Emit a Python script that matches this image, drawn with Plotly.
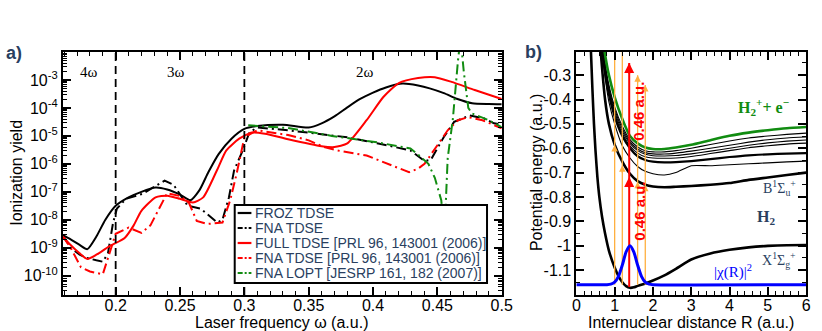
import plotly.graph_objects as go

W, H = 822, 331

# ---------------- panel a) ionization yield vs laser frequency ----------------
omega_froz = [0.159, 0.165, 0.172, 0.178, 0.185, 0.192, 0.2, 0.21, 0.22, 0.231, 0.24, 0.25, 0.258,
              0.265, 0.272, 0.28, 0.29, 0.3, 0.31, 0.33, 0.35, 0.36, 0.37, 0.38, 0.39, 0.4, 0.41,
              0.423, 0.435, 0.444, 0.455, 0.465, 0.477, 0.49, 0.5]
yield_froz = [-8.55, -8.7, -8.9, -9.05, -8.6, -8.0, -7.5, -7.2, -7.0, -6.85, -6.92, -7.1, -7.3,
              -6.95, -6.3, -5.65, -5.1, -4.75, -4.65, -4.6, -4.7, -4.55, -4.3, -3.98, -3.68, -3.45,
              -3.27, -3.13, -3.2, -3.3, -3.47, -3.67, -3.83, -3.86, -3.87]

omega_fna = [0.159, 0.165, 0.172, 0.178, 0.185, 0.19, 0.194, 0.198, 0.201, 0.208, 0.221, 0.232,
             0.238, 0.245, 0.256, 0.266, 0.279, 0.283, 0.288, 0.292, 0.298, 0.304, 0.31, 0.334,
             0.368, 0.38, 0.404, 0.429, 0.44, 0.445, 0.455, 0.463, 0.475, 0.486, 0.494, 0.5]
yield_fna = [-8.55, -9.0, -9.25, -9.37, -9.45, -9.5, -9.2, -8.1, -7.6, -7.25, -7.07, -6.75,
             -6.6, -6.75, -7.5, -7.6, -8.1, -8.0, -7.2, -6.24, -5.6, -4.87, -4.7, -4.8,
             -4.97, -5.05, -5.27, -5.52, -5.9, -5.85, -5.04, -4.5, -4.27, -4.37, -4.55, -4.6]

omega_full = [0.159, 0.165, 0.172, 0.178, 0.185, 0.195, 0.207, 0.214, 0.22, 0.231, 0.24, 0.25,
              0.26, 0.268, 0.279, 0.286, 0.296, 0.306, 0.316, 0.334, 0.36, 0.37, 0.38, 0.395,
              0.408, 0.42, 0.435, 0.448, 0.461, 0.479, 0.5]
yield_full = [-8.6, -8.9, -9.2, -9.4, -9.25, -8.95, -8.65, -8.2, -7.68, -7.2, -7.14, -7.25,
              -7.38, -7.2, -6.2, -5.52, -5.1, -4.88, -4.92, -5.12, -5.37, -5.4, -5.27, -4.44,
              -3.61, -3.11, -2.93, -2.9, -3.07, -3.36, -3.68]

omega_fna_prl = [0.159, 0.165, 0.173, 0.18, 0.19, 0.193, 0.2, 0.21, 0.22, 0.227, 0.24, 0.25,
                 0.257, 0.263, 0.271, 0.283, 0.289, 0.294, 0.3, 0.31, 0.334, 0.35, 0.362, 0.372,
                 0.395, 0.428, 0.435, 0.44, 0.45, 0.458, 0.466, 0.474, 0.485, 0.5]
yield_fna_prl = [-8.6, -9.0, -9.7, -9.85, -9.95, -9.5, -8.5, -8.28, -8.47, -8.2, -7.05, -7.15,
                 -7.4, -8.04, -8.15, -8.1, -7.3, -6.35, -5.05, -4.8, -4.97, -5.16, -5.4, -5.52,
                 -5.7, -6.3, -6.17, -6.0, -5.35, -4.8, -4.44, -4.33, -4.44, -4.73]

omega_lopt = [0.303, 0.334, 0.368, 0.403, 0.429, 0.434, 0.443, 0.448, 0.453, 0.4555, 0.458,
              0.462, 0.466, 0.468, 0.4705, 0.474, 0.477, 0.49, 0.5]
yield_lopt = [-4.62, -4.72, -5.0, -5.23, -5.45, -5.63, -6.0, -6.5, -7.3, -8.5, -5.8,
              -4.4, -2.3, -1.5, -2.7, -4.0, -4.2, -4.44, -4.69]

harmonic_edges = [0.2, 0.3]
harmonic_labels = ["4ω", "3ω", "2ω"]
harmonic_label_x = [0.179, 0.2466, 0.394]

legend_names = ["FROZ TDSE", "FNA TDSE", "FULL TDSE [PRL 96, 143001 (2006)]",
                "FNA TDSE [PRL 96, 143001 (2006)]", "FNA LOPT [JESRP 161, 182 (2007)]"]

# ---------------- panel b) potential curves ----------------
R_x = [0.38, 0.42, 0.46, 0.5, 0.55, 0.6, 0.67, 0.75, 0.85, 1.0, 1.1, 1.2, 1.3, 1.4, 1.5, 1.6,
       1.8, 2.0, 2.3, 2.6, 3.0, 3.5, 4.0, 4.5, 5.0, 5.5, 6.0]
E_x = [-0.2, -0.36, -0.5, -0.61, -0.72, -0.8, -0.88, -0.95, -1.02, -1.09, -1.125, -1.15, -1.166,
       -1.173, -1.171, -1.165, -1.155, -1.143, -1.122, -1.095, -1.057, -1.032, -1.017, -1.007,
       -1.001, -0.998, -0.997]

R_exc = [0.6, 0.65, 0.75, 0.85, 1.0, 1.2, 1.4, 1.6, 1.8, 2.0, 2.3, 2.6, 3.0, 3.5, 4.0, 4.5,
         5.0, 5.5, 6.0]
E_ion = [-0.02, -0.1, -0.215, -0.3, -0.39, -0.48, -0.55, -0.58, -0.597, -0.603, -0.603, -0.597,
         -0.586, -0.567, -0.549, -0.536, -0.526, -0.518, -0.513]
E_ryd1 = [-0.05, -0.13, -0.25, -0.34, -0.43, -0.51, -0.565, -0.595, -0.61, -0.615, -0.615, -0.61,
          -0.6, -0.585, -0.57, -0.558, -0.55, -0.543, -0.538]
E_ryd2 = [-0.06, -0.14, -0.26, -0.35, -0.44, -0.52, -0.573, -0.603, -0.618, -0.623, -0.624,
          -0.62, -0.612, -0.6, -0.588, -0.575, -0.565, -0.558, -0.554]
E_ryd3 = [-0.07, -0.15, -0.27, -0.36, -0.45, -0.53, -0.58, -0.61, -0.625, -0.631, -0.632, -0.63,
          -0.623, -0.612, -0.6, -0.588, -0.578, -0.571, -0.566]
E_ryd4 = [-0.08, -0.16, -0.28, -0.37, -0.46, -0.54, -0.59, -0.62, -0.635, -0.64, -0.641, -0.64,
          -0.634, -0.622, -0.61, -0.598, -0.59, -0.583, -0.579]
E_ryd5 = [-0.09, -0.17, -0.29, -0.38, -0.47, -0.55, -0.6, -0.633, -0.648, -0.655, -0.658,
          -0.657, -0.653, -0.645, -0.636, -0.629, -0.625, -0.622, -0.62]
E_ryd6 = [-0.11, -0.19, -0.31, -0.41, -0.5, -0.59, -0.64, -0.675, -0.695, -0.705, -0.71,
          -0.7, -0.672, -0.672, -0.668, -0.664, -0.66, -0.656, -0.653]
E_B = [-0.12, -0.23, -0.4, -0.5, -0.585, -0.655, -0.705, -0.735, -0.75, -0.757, -0.76, -0.758,
       -0.755, -0.75, -0.743, -0.73, -0.72, -0.71, -0.7]

R_chi = [0.0, 0.8, 0.9, 1.0, 1.1, 1.2, 1.3, 1.4, 1.5, 1.6, 1.7, 1.8, 1.9, 2.0, 6.0]
E_chi = [-1.16, -1.16, -1.158, -1.15, -1.126, -1.08, -1.025, -1.0, -1.025, -1.08, -1.126,
         -1.15, -1.158, -1.16, -1.16]

orange_R = [1.0, 1.2, 1.6, 1.8]
orange_top = [-0.205, -0.205, -0.30, -0.34]
orange_heads = [[-0.587], [-0.67], [-0.738, -0.30], [-0.75, -0.34]]
red_R = 1.38
red_bottom, red_top = -1.17, -0.25
red_heads = [-0.718, -0.25]

BLACK, RED, GREEN, BLUE, ORANGE = "black", "#ff0000", "#118c11", "#0000ff", "#ffb040"
SANS = "Liberation Sans, Arial, sans-serif"
SERIF = "Liberation Serif, Times New Roman, serif"


def paper_x(p):
    return p / W


def paper_y(p):
    return 1 - p / H


fig = go.Figure()

dash_dd = "10px,4px,2px,4px"
a_series = [
    (omega_froz, yield_froz, BLACK, "solid", "spline"),
    (omega_fna, yield_fna, BLACK, dash_dd, "linear"),
    (omega_full, yield_full, RED, "solid", "spline"),
    (omega_fna_prl, yield_fna_prl, RED, dash_dd, "linear"),
    (omega_lopt, yield_lopt, GREEN, dash_dd, "linear"),
]
for (xs, ys, col, dash, shape), name in zip(a_series, legend_names):
    fig.add_trace(go.Scatter(
        x=xs, y=[10 ** v for v in ys], mode="lines", name=name, showlegend=False,
        line=dict(color=col, width=2, dash=dash, shape=shape, smoothing=0.6),
        xaxis="x", yaxis="y"))

for xe in harmonic_edges:
    fig.add_trace(go.Scatter(
        x=[xe, xe], y=[10 ** -10.69, 10 ** -2.0], mode="lines", showlegend=False,
        line=dict(color=BLACK, width=1.8, dash="8px,5px"), xaxis="x", yaxis="y"))

# panel b traces
b_series = [
    (R_exc, E_ryd1, BLACK, 1.1), (R_exc, E_ryd2, BLACK, 1.1), (R_exc, E_ryd3, BLACK, 1.1),
    (R_exc, E_ryd4, BLACK, 1.1), (R_exc, E_ryd5, BLACK, 2.2), (R_exc, E_ryd6, BLACK, 1.1),
    (R_exc, E_B, BLACK, 2.6), (R_exc, E_ion, GREEN, 2.6), (R_x, E_x, BLACK, 2.6),
]
for xs, ys, col, w in b_series:
    fig.add_trace(go.Scatter(x=xs, y=ys, mode="lines", showlegend=False,
                             line=dict(color=col, width=w, shape="spline", smoothing=0.5),
                             xaxis="x2", yaxis="y2"))

for r, top in zip(orange_R, orange_top):
    fig.add_trace(go.Scatter(x=[r, r], y=[-1.16, top], mode="lines", showlegend=False,
                             line=dict(color=ORANGE, width=1.3), xaxis="x2", yaxis="y2"))
fig.add_trace(go.Scatter(x=[red_R, red_R], y=[red_bottom, red_top], mode="lines",
                         showlegend=False, line=dict(color=RED, width=2),
                         xaxis="x2", yaxis="y2"))
fig.add_trace(go.Scatter(x=R_chi, y=E_chi, mode="lines", showlegend=False,
                         line=dict(color=BLUE, width=3, shape="spline", smoothing=0.6),
                         xaxis="x2", yaxis="y2"))

ann = []
for r, heads in zip(orange_R, orange_heads):
    for hy in heads:
        ann.append(dict(x=r, y=hy, xref="x2", yref="y2", ax=0, ay=9, text="",
                        showarrow=True, arrowhead=2, arrowsize=1, arrowwidth=1.3,
                        arrowcolor=ORANGE))
for hy in red_heads:
    ann.append(dict(x=red_R, y=hy, xref="x2", yref="y2", ax=0, ay=12, text="",
                    showarrow=True, arrowhead=2, arrowsize=1, arrowwidth=2, arrowcolor=RED))

for lbl, lx in zip(harmonic_labels, harmonic_label_x):
    ann.append(dict(x=lx, y=-2.71, xref="x", yref="y", text=lbl, showarrow=False,
                    font=dict(family=SERIF, size=15, color=BLACK)))

red_txt = dict(family=SANS, size=15, color=RED)
for ty in [-0.45, -0.86]:
    ann.append(dict(x=1.64, y=ty, xref="x2", yref="y2", text="<b>0.46 a.u.</b>",
                    textangle=-90, showarrow=False, font=red_txt))

ann += [
    dict(x=4.9, y=-0.43, xref="x2", yref="y2", showarrow=False,
         text="<b>H<sub>2</sub><sup>+</sup>+ e<sup>−</sup></b>",
         font=dict(family=SERIF, size=16, color=GREEN)),
    dict(x=5.3, y=-0.765, xref="x2", yref="y2", showarrow=False,
         text="B<sup>1</sup>Σ<sub>u</sub><sup>+</sup>", font=dict(family=SERIF, size=14)),
    dict(x=4.95, y=-0.885, xref="x2", yref="y2", showarrow=False,
         text="<b>H<sub>2</sub></b>", font=dict(family=SERIF, size=16)),
    dict(x=5.3, y=-1.06, xref="x2", yref="y2", showarrow=False,
         text="X<sup>1</sup>Σ<sub>g</sub><sup>+</sup>", font=dict(family=SERIF, size=14)),
    dict(x=4.1, y=-1.105, xref="x2", yref="y2", showarrow=False,
         text="|χ(R)|<sup>2</sup>", font=dict(family=SERIF, size=15, color=BLUE)),
]

# panel letters and axis titles
title_font = dict(family=SANS, size=16, color=BLACK)
paper_txt = [
    (10, 53, "<b>a)</b>", 0, dict(family=SANS, size=18)),
    (539, 52, "<b>b)</b>", 0, dict(family=SANS, size=18)),
    (12, 173, "Ionization yield", -90, title_font),
    (283, 322, "Laser frequency ω (a.u.)", 0, title_font),
    (542, 173, "Potential energy (a.u.)", -90, title_font),
    (700, 322, "Internuclear distance R (a.u.)", 0, title_font),
]
for tx, ty, txt, ang, fnt in paper_txt:
    ann.append(dict(x=paper_x(tx), y=paper_y(ty), xref="paper", yref="paper", text=txt,
                    textangle=ang, xanchor="center", yanchor="middle", showarrow=False,
                    font=fnt))

# hand-drawn legend box for panel a
shapes = [dict(type="rect", xref="paper", yref="paper", x0=paper_x(235), x1=paper_x(492),
               y0=paper_y(283), y1=paper_y(205), fillcolor="white",
               line=dict(color=BLACK, width=2), layer="above")]
legend_rows = [213, 228, 243, 258, 273]
for (xs, ys, col, dash, shape), name, ry in zip(a_series, legend_names, legend_rows):
    shapes.append(dict(type="line", xref="paper", yref="paper", x0=paper_x(238),
                       x1=paper_x(252), y0=paper_y(ry), y1=paper_y(ry), layer="above",
                       line=dict(color=col, width=2.2,
                                 dash="5px,2px,2px,2px" if dash != "solid" else "solid")))
    ann.append(dict(x=paper_x(254), y=paper_y(ry), xref="paper", yref="paper", text=name,
                    xanchor="left", yanchor="middle", showarrow=False,
                    font=dict(family=SANS, size=14)))

axis_style = dict(showline=True, linecolor=BLACK, linewidth=2, mirror="allticks",
                  ticks="inside", ticklen=8, tickwidth=1.5, tickcolor=BLACK,
                  showgrid=False, zeroline=False,
                  tickfont=dict(family=SANS, size=16, color=BLACK))
minor_style = dict(ticks="inside", ticklen=4, tickwidth=1, tickcolor=BLACK, showgrid=False)

y_dom = [paper_y(295), paper_y(52)]
a_xticks = [0.2, 0.25, 0.3, 0.35, 0.4, 0.45, 0.5]
a_yticks = [-10, -9, -8, -7, -6, -5, -4, -3]
b_xticks = [0, 1, 2, 3, 4, 5, 6]
b_yticks = [-1.1, -1.0, -0.9, -0.8, -0.7, -0.6, -0.5, -0.4, -0.3]

fig.update_layout(
    width=W, height=H, margin=dict(l=0, r=0, t=0, b=0),
    paper_bgcolor="white", plot_bgcolor="white", showlegend=False,
    xaxis=dict(domain=[paper_x(60), paper_x(507)], range=[0.159, 0.5], anchor="y",
               tickmode="array", tickvals=a_xticks, ticktext=[f"{v:g}" for v in a_xticks],
               ticklabelstandoff=-5,
               minor=dict(dtick=0.01, tick0=0, **minor_style), **axis_style),
    yaxis=dict(domain=y_dom, type="log", range=[-10.69, -2.0], anchor="x",
               tickmode="array", tickvals=[10 ** v for v in a_yticks],
               ticktext=[f"10<sup>{v}</sup>" for v in a_yticks],
               minor=dict(dtick="D1", **minor_style), **axis_style),
    xaxis2=dict(domain=[paper_x(583), paper_x(817)], range=[0, 6], anchor="y2",
                tickmode="array", tickvals=b_xticks, ticktext=[str(v) for v in b_xticks],
                ticklabelstandoff=-5,
                minor=dict(dtick=0.2, tick0=0, **minor_style), **axis_style),
    yaxis2=dict(domain=y_dom, range=[-1.2025, -0.205], anchor="x2",
                tickmode="array", tickvals=b_yticks,
                ticktext=[f"{v:g}" for v in b_yticks],
                minor=dict(dtick=0.05, tick0=0, **minor_style), **axis_style),
    annotations=ann, shapes=shapes,
)

# the page body keeps its default 8px margin; drop it so the figure sits at the window origin
fig.write_html("out.html", config={"displayModeBar": False},
               post_script="document.body.style.margin = '0px';")
